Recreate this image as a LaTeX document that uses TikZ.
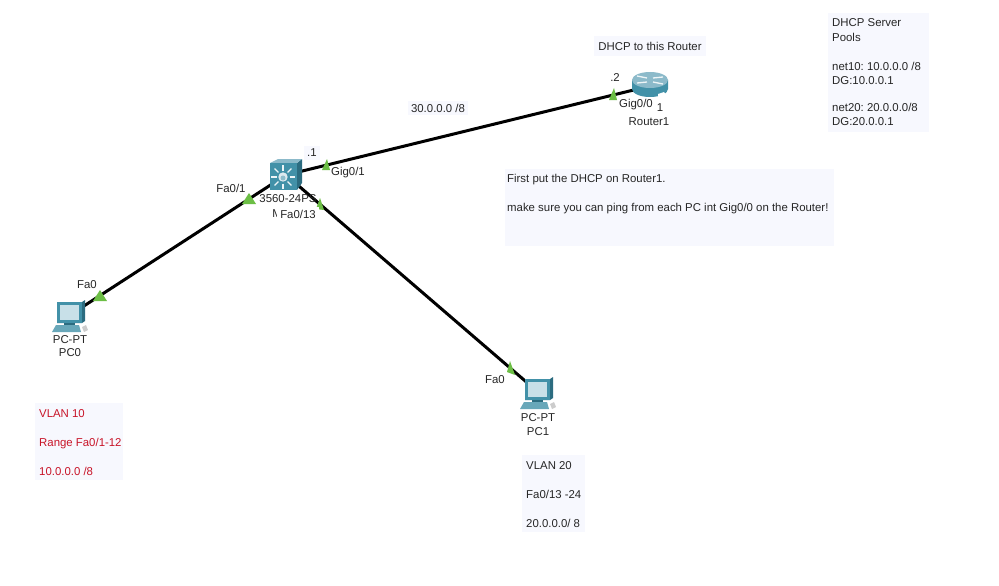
\documentclass[tikz,border=0pt]{standalone}
\usepackage{fontspec}
\setmainfont{Liberation Sans}
\frenchspacing
\definecolor{linkgreen}{RGB}{108, 190, 69}
\definecolor{notebg}{RGB}{247, 248, 254}
\definecolor{vlanred}{RGB}{200, 20, 40}
\definecolor{devteal}{RGB}{66, 145, 168}
\definecolor{devdark}{RGB}{44, 108, 128}
\definecolor{devlight}{RGB}{140, 186, 202}
\definecolor{screenblue}{RGB}{200, 224, 232}
\usetikzlibrary{positioning}
\tikzset{
  devspot/.style={inner sep=0pt, minimum size=2pt},
  lbl/.style={inner sep=0.5pt, font=\fontsize{11.4}{13}\selectfont, text=black!85},
  note/.style={fill=notebg, inner sep=0pt, anchor=north west, align=left, font=\fontsize{11.4}{14.4}\selectfont, text=black!85},
  link/.style={line width=3pt, black},
  tick/.style={fill=linkgreen, draw=none},
  pcicon/.pic={
    \fill[devteal!80!white] (-18,17) -- (11,17) -- (9,10) -- (-14,10) -- cycle;
    \fill[devdark] (-13,-13) -- (12,-13) -- (15,-15) -- (15,6) -- (12,8) -- (-13,8) -- cycle;
    \fill[devteal] (-13,-13) rectangle (12,8);
    \fill[screenblue] (-10,-10) rectangle (9,5);
    \fill[devdark] (-6,8) rectangle (5,10);
    \fill[black!20] (12,12) -- (16,10) -- (18,15) -- (14,17) -- cycle;
  },
  switchicon/.pic={
    \fill[devdark] (11,-12) -- (16,-16) -- (16,8) -- (11,15) -- cycle;
    \fill[devlight] (-16,-12) -- (-8,-16) -- (16,-16) -- (11,-12) -- cycle;
    \fill[devteal] (-16,-12) rectangle (11,15);
    \foreach \a in {0,45,...,315} {
      \draw[white!85!devlight, line width=1.3pt] (-3,2) ++(\a:6.5) -- ++(\a:5.5);
    }
    \fill[white!70!devlight] (-3,2) circle (4.7);
    \fill[devteal!60!white] (-3,3) circle (2.5);
  },
  routericon/.pic={
    \fill[devteal] (-18,-6) -- (-18,3) arc[start angle=180, end angle=0, x radius=18, y radius=8] -- (18,-6) -- cycle;
    \fill[devlight] (0,-6) ellipse (18 and 8);
    \foreach \a/\b in {-1/1, 1/-1} {
      \draw[white!85!devlight, line width=1.3pt] (\a*3,-6+\b*-2) -- (\a*13,-6+\b*-4);
      \draw[white!85!devlight, line width=1.3pt] (\a*3,-6+\b*2) -- (\a*13,-6+\b*3);
    }
    \fill[white] (8,8) -- (14,6) -- (16,9) -- (8,12) -- cycle;
  },
}
\begin{document}
\begin{tikzpicture}[x=1pt, y=-1pt]
  \useasboundingbox (0,0) rectangle (999,586);
  \fill[white] (0,0) rectangle (999,586);

  % Devices
  \node[devspot] (sw) at (286,175) {};
  \node[devspot] (router) at (650,86) {};
  \node[devspot] (pc0) at (70,315) {};
  \node[devspot] (pc1) at (538,392) {};

  % Links
  \draw[link] (pc0) -- (sw);
  \draw[link] (pc1) -- (sw);
  \draw[link] (sw) -- (router);

  % Link lights
  \fill[tick] (100,290) -- (93,301) -- (107,301) -- cycle;
  \fill[tick] (249,193) -- (242,204) -- (256,204) -- cycle;
  \fill[tick] (320,198) -- (316,209) -- (324,210) -- cycle;
  \fill[tick] (327,159) -- (322,170) -- (330,170) -- cycle;
  \fill[tick] (614,88) -- (609,100) -- (617,100) -- cycle;
  \fill[tick] (510,361) -- (507,372) -- (515,375) -- cycle;

  \pic at (sw) {switchicon};
  \pic at (router) {routericon};
  \pic at (pc0) {pcicon};
  \pic at (pc1) {pcicon};

  % Notes
  \node[lbl, fill=notebg, minimum width=112pt, minimum height=20pt] (dhcpnote) at (650,46) {DHCP to this Router};
  \node[note, minimum width=101pt, minimum height=119pt] (pools) at (828,13) {};
  \node[note] (poolstext) at (832,18.5) {DHCP Server\\Pools\\[15pt]net10: 10.0.0.0 /8\\DG:10.0.0.1\\[12pt]net20: 20.0.0.0/8\\DG:20.0.0.1};
  \node[note, minimum width=329pt, minimum height=77pt] (firstbox) at (505,169) {};
  \node[note] (firsttext) at (507,174) {First put the DHCP on Router1.\\[14.4pt]make sure you can ping from each PC int Gig0/0 on the Router!};
  \node[note, minimum width=88pt, minimum height=77pt] (vlan10box) at (35,403) {};
  \node[note, text=vlanred] (vlan10text) at (39,409.5) {VLAN 10\\[14.4pt]Range Fa0/1-12\\[14.4pt]10.0.0.0 /8};
  \node[note, minimum width=63pt, minimum height=77pt] (vlan20box) at (522,455) {};
  \node[note] (vlan20text) at (526,461.5) {VLAN 20\\[14.4pt]Fa0/13 -24\\[14.4pt]20.0.0.0/ 8};

  % Labels
  \node[lbl, fill=notebg, inner sep=3pt] (net30) at (438,108) {30.0.0.0 /8};
  \node[lbl, fill=notebg, inner sep=3pt] (dot1) at (312,153) {.1};
  \node[lbl] (gig01) at (348,173) {Gig0/1};
  \node[lbl] (fa01) at (231,188) {Fa0/1};
  \node[lbl] (swmodel) at (288,199) {3560-24PS};
  \node[lbl] (swname) at (277,214) {M};
  \node[lbl, fill=white, inner sep=3pt] (fa013) at (298,214) {Fa0/13};
  \node[lbl] (dot2) at (615,78) {.2};
  \node[lbl] (gig00) at (636,105) {Gig0/0};
  \node[lbl] (one) at (660,108) {1};
  \node[lbl] (routername) at (649,122) {Router1};
  \node[lbl] (pc0port) at (87,285) {Fa0};
  \node[lbl] (pc0model) at (70,340) {PC-PT};
  \node[lbl] (pc0name) at (70,353) {PC0};
  \node[lbl] (pc1port) at (495,380) {Fa0};
  \node[lbl] (pc1model) at (538,418) {PC-PT};
  \node[lbl] (pc1name) at (538,432) {PC1};
\end{tikzpicture}
\end{document}
